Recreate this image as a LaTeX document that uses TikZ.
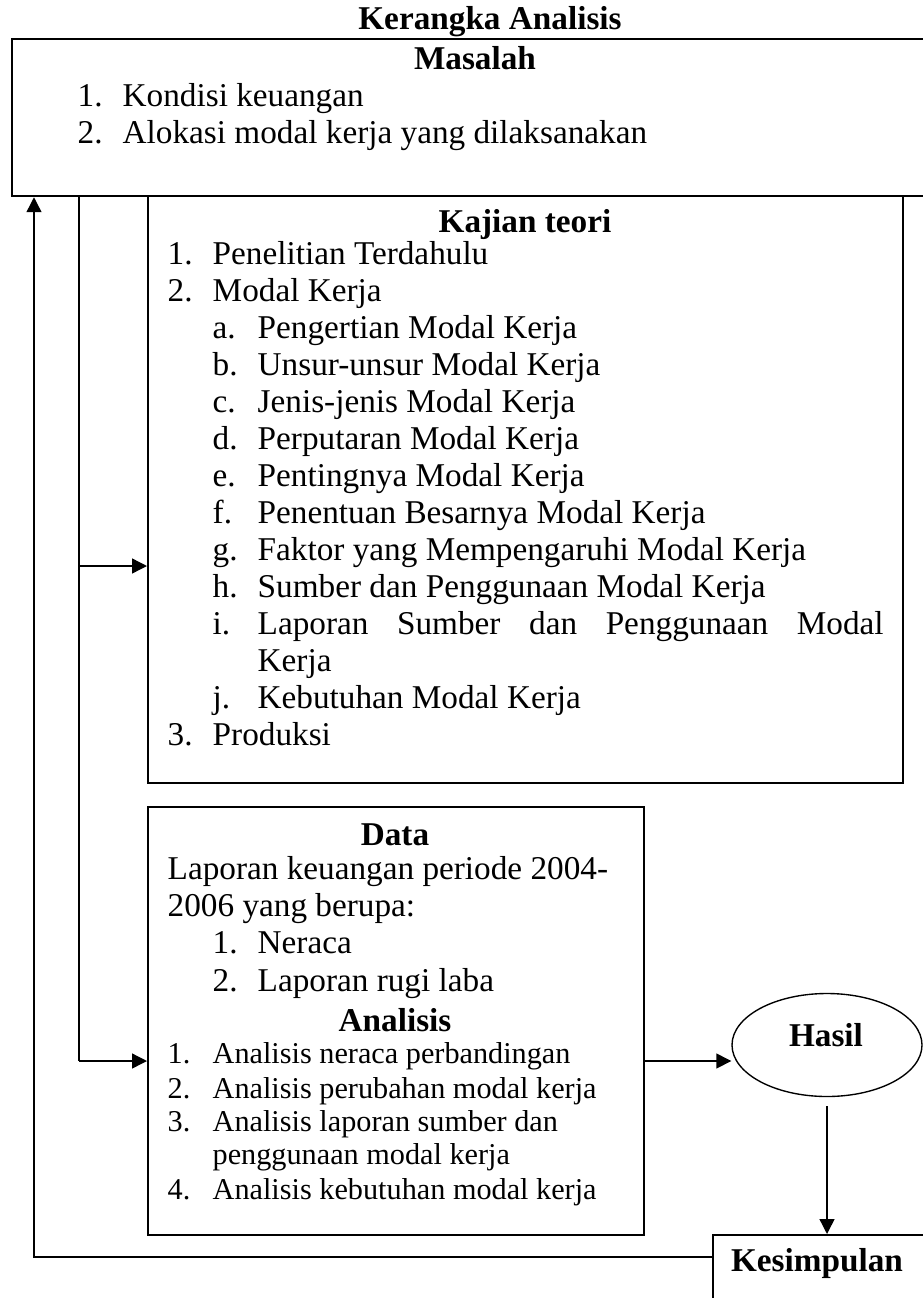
\documentclass[tikz,border=0pt]{standalone}
\usepackage{fontspec}
\setmainfont{Liberation Serif}
\usepackage{tikz}
\usetikzlibrary{calc, positioning, arrows.meta, shapes.geometric}
\newcommand{\unitpx}{0.4pt}
\newcommand{\bodysize}{\fontsize{13.3}{15}\selectfont}
\tikzset{
  box/.style={draw, line width=0.9pt, inner sep=0pt, anchor=north west},
  txt/.style={anchor=west, inner sep=0pt, text height=8pt, text depth=2.5pt},
  small/.style={txt, font=\fontsize{12.1}{14}\selectfont},
  head/.style={font=\bodysize\bfseries, inner sep=0pt},
  arr/.style={-{Triangle[length=6pt, width=6pt]}}
}

\begin{document}
\begin{tikzpicture}[x=\unitpx, y=-\unitpx, font=\bodysize, line width=0.55pt]
  \useasboundingbox (0,0) rectangle (922,1298);
  \node[head] (title) at (490,22) {Kerangka Analisis};

  \node[box, minimum width=925*\unitpx, minimum height=157*\unitpx] (mas) at (11,38) {};
  \node[box, minimum width=755*\unitpx, minimum height=587*\unitpx] (kaj) at (147,195) {};
  \node[box, minimum width=496*\unitpx, minimum height=428*\unitpx] (data) at (147,806) {};
  \node[draw, ellipse, line width=0.55pt, minimum width=190*\unitpx, minimum height=103*\unitpx] (hasil) at (827,1045) {};
  \node[box, minimum width=223*\unitpx, minimum height=90*\unitpx] (kes) at (712,1234) {};

  \node[head] (masH) at (475,58) {Masalah};
  \node[txt] (mas1n) at (77,100) {1.};
  \node[txt] (mas1) at (122,100) {Kondisi keuangan};
  \node[txt] (mas2n) at (77,137) {2.};
  \node[txt] (mas2) at (122,137) {Alokasi modal kerja yang dilaksanakan};

  \node[head] (kajH) at (525,225) {Kajian teori};
  \node[txt] at (167,258) {1.};
  \node[txt] at (212,258) {Penelitian Terdahulu};
  \node[txt] at (167,295) {2.};
  \node[txt] at (212,295) {Modal Kerja};
  \foreach \l/\t [count=\i from 0] in {a./Pengertian Modal Kerja, b./Unsur-unsur Modal Kerja,
      c./Jenis-jenis Modal Kerja, d./Perputaran Modal Kerja, e./Pentingnya Modal Kerja,
      f./Penentuan Besarnya Modal Kerja, g./Faktor yang Mempengaruhi Modal Kerja,
      h./Sumber dan Penggunaan Modal Kerja} {
    \node[txt] at (212,332+37*\i) {\l};
    \node[txt] at (257,332+37*\i) {\t};
  }
  \node[txt] at (212,628) {i.};
  \node[txt] at (257,628) {\makebox[250.4pt][s]{Laporan Sumber dan Penggunaan Modal}};
  \node[txt] at (257,665) {Kerja};
  \node[txt] at (212,702) {j.};
  \node[txt] at (257,702) {Kebutuhan Modal Kerja};
  \node[txt] at (167,739) {3.};
  \node[txt] at (212,739) {Produksi};

  \node[head] (dataH) at (395,835) {Data};
  \node[txt] at (167,873) {Laporan keuangan periode 2004-};
  \node[txt] at (167,910) {2006 yang berupa:};
  \node[txt] at (212,947) {1.};
  \node[txt] at (257,947) {Neraca};
  \node[txt] at (212,985) {2.};
  \node[txt] at (257,985) {Laporan rugi laba};
  \node[head] (anaH) at (395,1020) {Analisis};
  \node[small] at (167,1057) {1.};
  \node[small] at (212,1057) {Analisis neraca perbandingan};
  \node[small] at (167,1092) {2.};
  \node[small] at (212,1092) {Analisis perubahan modal kerja};
  \node[small] at (167,1125) {3.};
  \node[small] at (212,1125) {Analisis laporan sumber dan};
  \node[small] at (212,1158) {penggunaan modal kerja};
  \node[small] at (167,1193) {4.};
  \node[small] at (212,1193) {Analisis kebutuhan modal kerja};

  \node[head] (hasilT) at (826,1035) {Hasil};
  \node[head] (kesT) at (817,1263) {Kesimpulan};

  \coordinate (back) at (34,1257);
  \coordinate (trunk) at (79,1061);
  \coordinate (tokaj) at (79,566);
  \draw[arr] (back -| kes.west) -- (back) -- (back |- mas.south);
  \draw (trunk |- mas.south) -- (trunk);
  \draw[arr] (trunk) -- (trunk -| data.west);
  \draw[arr] (tokaj) -- (tokaj -| kaj.west);
  \draw[arr] (trunk -| data.east) -- (trunk -| hasil.west);
  \draw[arr] ([yshift=-9*\unitpx]hasil.south) -- (hasil.south |- kes.north);
\end{tikzpicture}
\end{document}
